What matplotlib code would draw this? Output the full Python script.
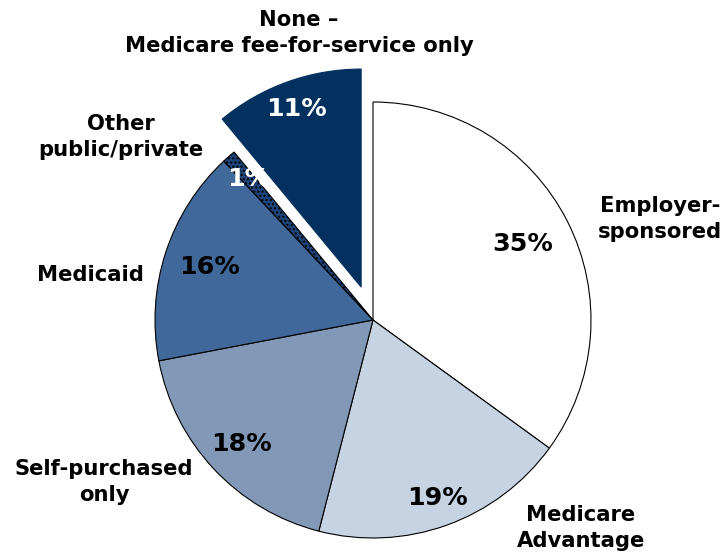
import numpy as np
import matplotlib
matplotlib.use("Agg")
import matplotlib.pyplot as plt

# Health coverage shares, in drawing order (clockwise from 12 o'clock)
categories = ["Employer-\nsponsored", "Medicare\nAdvantage", "Self-purchased\nonly",
              "Medicaid", "Other\npublic/private", "None \u2013\nMedicare fee-for-service only"]
shares = [35, 19, 18, 16, 1, 11]
colors = ["#ffffff", "#c6d3e3", "#8198b6", "#40689a", "#1d4579", "#02305f"]
pct_colors = ["black", "black", "black", "black", "white", "white"]
hatches = [None, None, None, None, "....", None]
explode = [0, 0, 0, 0, 0, 35]
pct_dist = [0.77, 0.87, 0.83, 0.79, 0.86, 0.87]

W, H = 725, 557
plt.rcParams["hatch.color"] = "white"
fig = plt.figure(figsize=(W / 100, H / 100), dpi=100)
ax = fig.add_axes([0, 0, 1, 1])

cx, cy, R = 373, H - 320, 218
wedges, _ = ax.pie(shares, colors=colors, startangle=90, counterclock=False,
                   explode=explode, radius=R, center=(cx, cy),
                   wedgeprops=dict(edgecolor="black", linewidth=0.8))
ax.set_xlim(0, W)
ax.set_ylim(0, H)
ax.set_aspect("equal")
ax.axis("off")

for w, h in zip(wedges, hatches):
    if h:
        w.set_hatch(h)
wedges[-1].set_edgecolor(colors[-1])

# percentage labels placed along each wedge's mid-angle
font = "DejaVu Sans"
for w, v, d, tc in zip(wedges, shares, pct_dist, pct_colors):
    th = np.deg2rad((w.theta1 + w.theta2) / 2)
    x0, y0 = w.center
    ax.text(x0 + d * R * np.cos(th), y0 + d * R * np.sin(th), f"{v}%",
            ha="center", va="center", fontsize=18.3, fontweight="bold",
            color=tc, family=font)

# category labels
label_pos = [(660, 219), (581, 528), (104, 482), (90, 275), (121, 137), (299, 33)]
for (lx, ly), name in zip(label_pos, categories):
    ax.text(lx, H - ly, name, ha="center", va="center", fontsize=15.2,
            fontweight="bold", family=font, linespacing=1.4)

fig.savefig("out.png", dpi=100, facecolor="white")
